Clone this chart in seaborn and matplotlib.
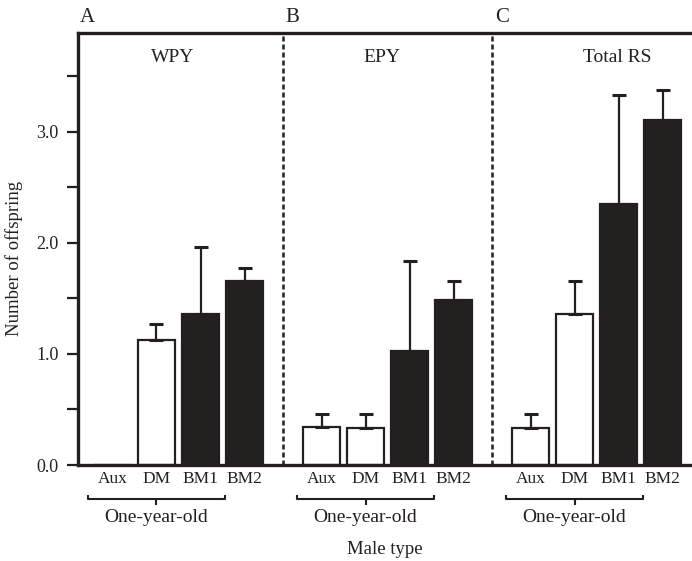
import numpy as np
import pandas as pd
import matplotlib
matplotlib.use("Agg")
import matplotlib.pyplot as plt
import matplotlib.transforms as mtransforms
import seaborn as sns

# ---------------- data ----------------
panels = ["WPY", "EPY", "Total RS"]
panel_letters = ["A", "B", "C"]
male_types = ["Aux", "DM", "BM1", "BM2"]
fill_kind = ["open", "open", "closed", "closed"]
wpy_mean = [0.0, 1.13, 1.36, 1.66]
wpy_err = [0.0, 0.14, 0.60, 0.11]
epy_mean = [0.34, 0.33, 1.03, 1.49]
epy_err = [0.12, 0.13, 0.81, 0.17]
rs_mean = [0.33, 1.36, 2.35, 3.11]
rs_err = [0.13, 0.30, 0.98, 0.27]
yticks = [0.0, 1.0, 2.0, 3.0]
ytick_labels = ["0.0", "1.0", "2.0", "3.0"]
group_label = "One-year-old"

means = [wpy_mean, epy_mean, rs_mean]
errs = [wpy_err, epy_err, rs_err]

panel_step = 4.75
rows = []
for i, p in enumerate(panels):
    for j, t in enumerate(male_types):
        rows.append(dict(panel=p, mtype=t, pos=i * panel_step + j,
                         mean=means[i][j], err=errs[i][j], fill=fill_kind[j]))
df = pd.DataFrame(rows)

# ---------------- style ----------------
sns.set_theme(style="ticks")
plt.rcParams["font.family"] = ["Liberation Serif", "DejaVu Serif"]
dark = "#231f20"

fig = plt.figure(figsize=(6.92, 5.61), dpi=100)
W, H = 692, 561
ax = fig.add_axes([78 / W, (H - 465) / H, (W - 78) / W, (465 - 33) / H])

sns.barplot(data=df, x="pos", y="mean", hue="fill",
            palette={"open": "white", "closed": dark},
            native_scale=True, dodge=False, errorbar=None, width=0.85,
            edgecolor=dark, linewidth=1.6, legend=False, ax=ax, zorder=2)
ax.set_xlabel("")
ax.set_ylabel("")

has_err = df[df["err"] > 0]
ax.errorbar(has_err["pos"], has_err["mean"],
            yerr=[np.zeros(len(has_err)), has_err["err"]],
            fmt="none", ecolor=dark, elinewidth=1.6, capsize=5, capthick=2.2,
            zorder=3)

ax.set_xlim(-0.784, 13.17)
ax.set_ylim(0, 3.89)

# separators
for i in range(1, len(panels)):
    xb = (df[df.panel == panels[i - 1]]["pos"].max() + df[df.panel == panels[i]]["pos"].min()) / 2
    ax.axvline(xb, color=dark, lw=1.8, linestyle=(0, (2.0, 1.2)), zorder=1)

# spines
for s in ["left", "bottom", "top"]:
    ax.spines[s].set_linewidth(2.4)
    ax.spines[s].set_color(dark)
ax.spines["right"].set_visible(False)

# y ticks
ax.set_yticks(yticks)
ax.set_yticklabels(ytick_labels)
ax.set_yticks([0.5, 1.5, 2.5, 3.5], minor=True)
ax.tick_params(axis="y", which="both", length=8, width=1.6, color=dark,
               labelsize=13, labelcolor=dark, direction="out", pad=6, right=False)
ax.tick_params(axis="y", which="minor", labelleft=False)

# x ticks (category labels)
ax.set_xticks(df["pos"])
ax.set_xticklabels(df["mtype"])
ax.tick_params(axis="x", length=0, labelsize=12.5, labelcolor=dark, pad=4)

# axis titles
fig.text(14 / W, 1 - 258 / H, "Number of offspring", rotation=90, ha="center",
         va="center", fontsize=13.5, color=dark)
fig.text((78 + 692) / 2 / W, 1 - 549 / H, "Male type", ha="center", va="center",
         fontsize=13.5, color=dark)

trans = mtransforms.blended_transform_factory(ax.transData, ax.transAxes)
axh = 432.0
y_br = (465 - 499) / axh
y_end = (465 - 495) / axh
y_mid = (465 - 505) / axh
y_txt = (465 - 517) / axh

title_offset = [1.375, 1.375, 1.966]
for i, p in enumerate(panels):
    sub = df[df.panel == p]
    x0 = sub["pos"].iloc[0] - 0.56
    x1 = sub["pos"].iloc[2] + 0.56
    xm = sub["pos"].iloc[1]
    ax.plot([x0, x0, x1, x1], [y_end, y_br, y_br, y_end], color=dark, lw=1.5,
            transform=trans, clip_on=False, solid_capstyle="butt")
    ax.plot([xm, xm], [y_br, y_mid], color=dark, lw=1.5, transform=trans,
            clip_on=False, solid_capstyle="butt")
    ax.text(xm, y_txt, group_label, transform=trans, ha="center", va="center",
            fontsize=14, color=dark)
    # panel title
    ax.text(sub["pos"].iloc[0] + title_offset[i], 3.667, p, ha="center",
            va="center", fontsize=14, color=dark)
    # panel letter
    if i == 0:
        xl = -0.784 + 0.22
    else:
        xl = (df[df.panel == panels[i - 1]]["pos"].max() + sub["pos"].min()) / 2 + 0.22
    ax.text(xl, (465 - 18) / axh, panel_letters[i], transform=trans, ha="center",
            va="center", fontsize=15, color=dark, clip_on=False)

fig.savefig("out.png", dpi=100)
